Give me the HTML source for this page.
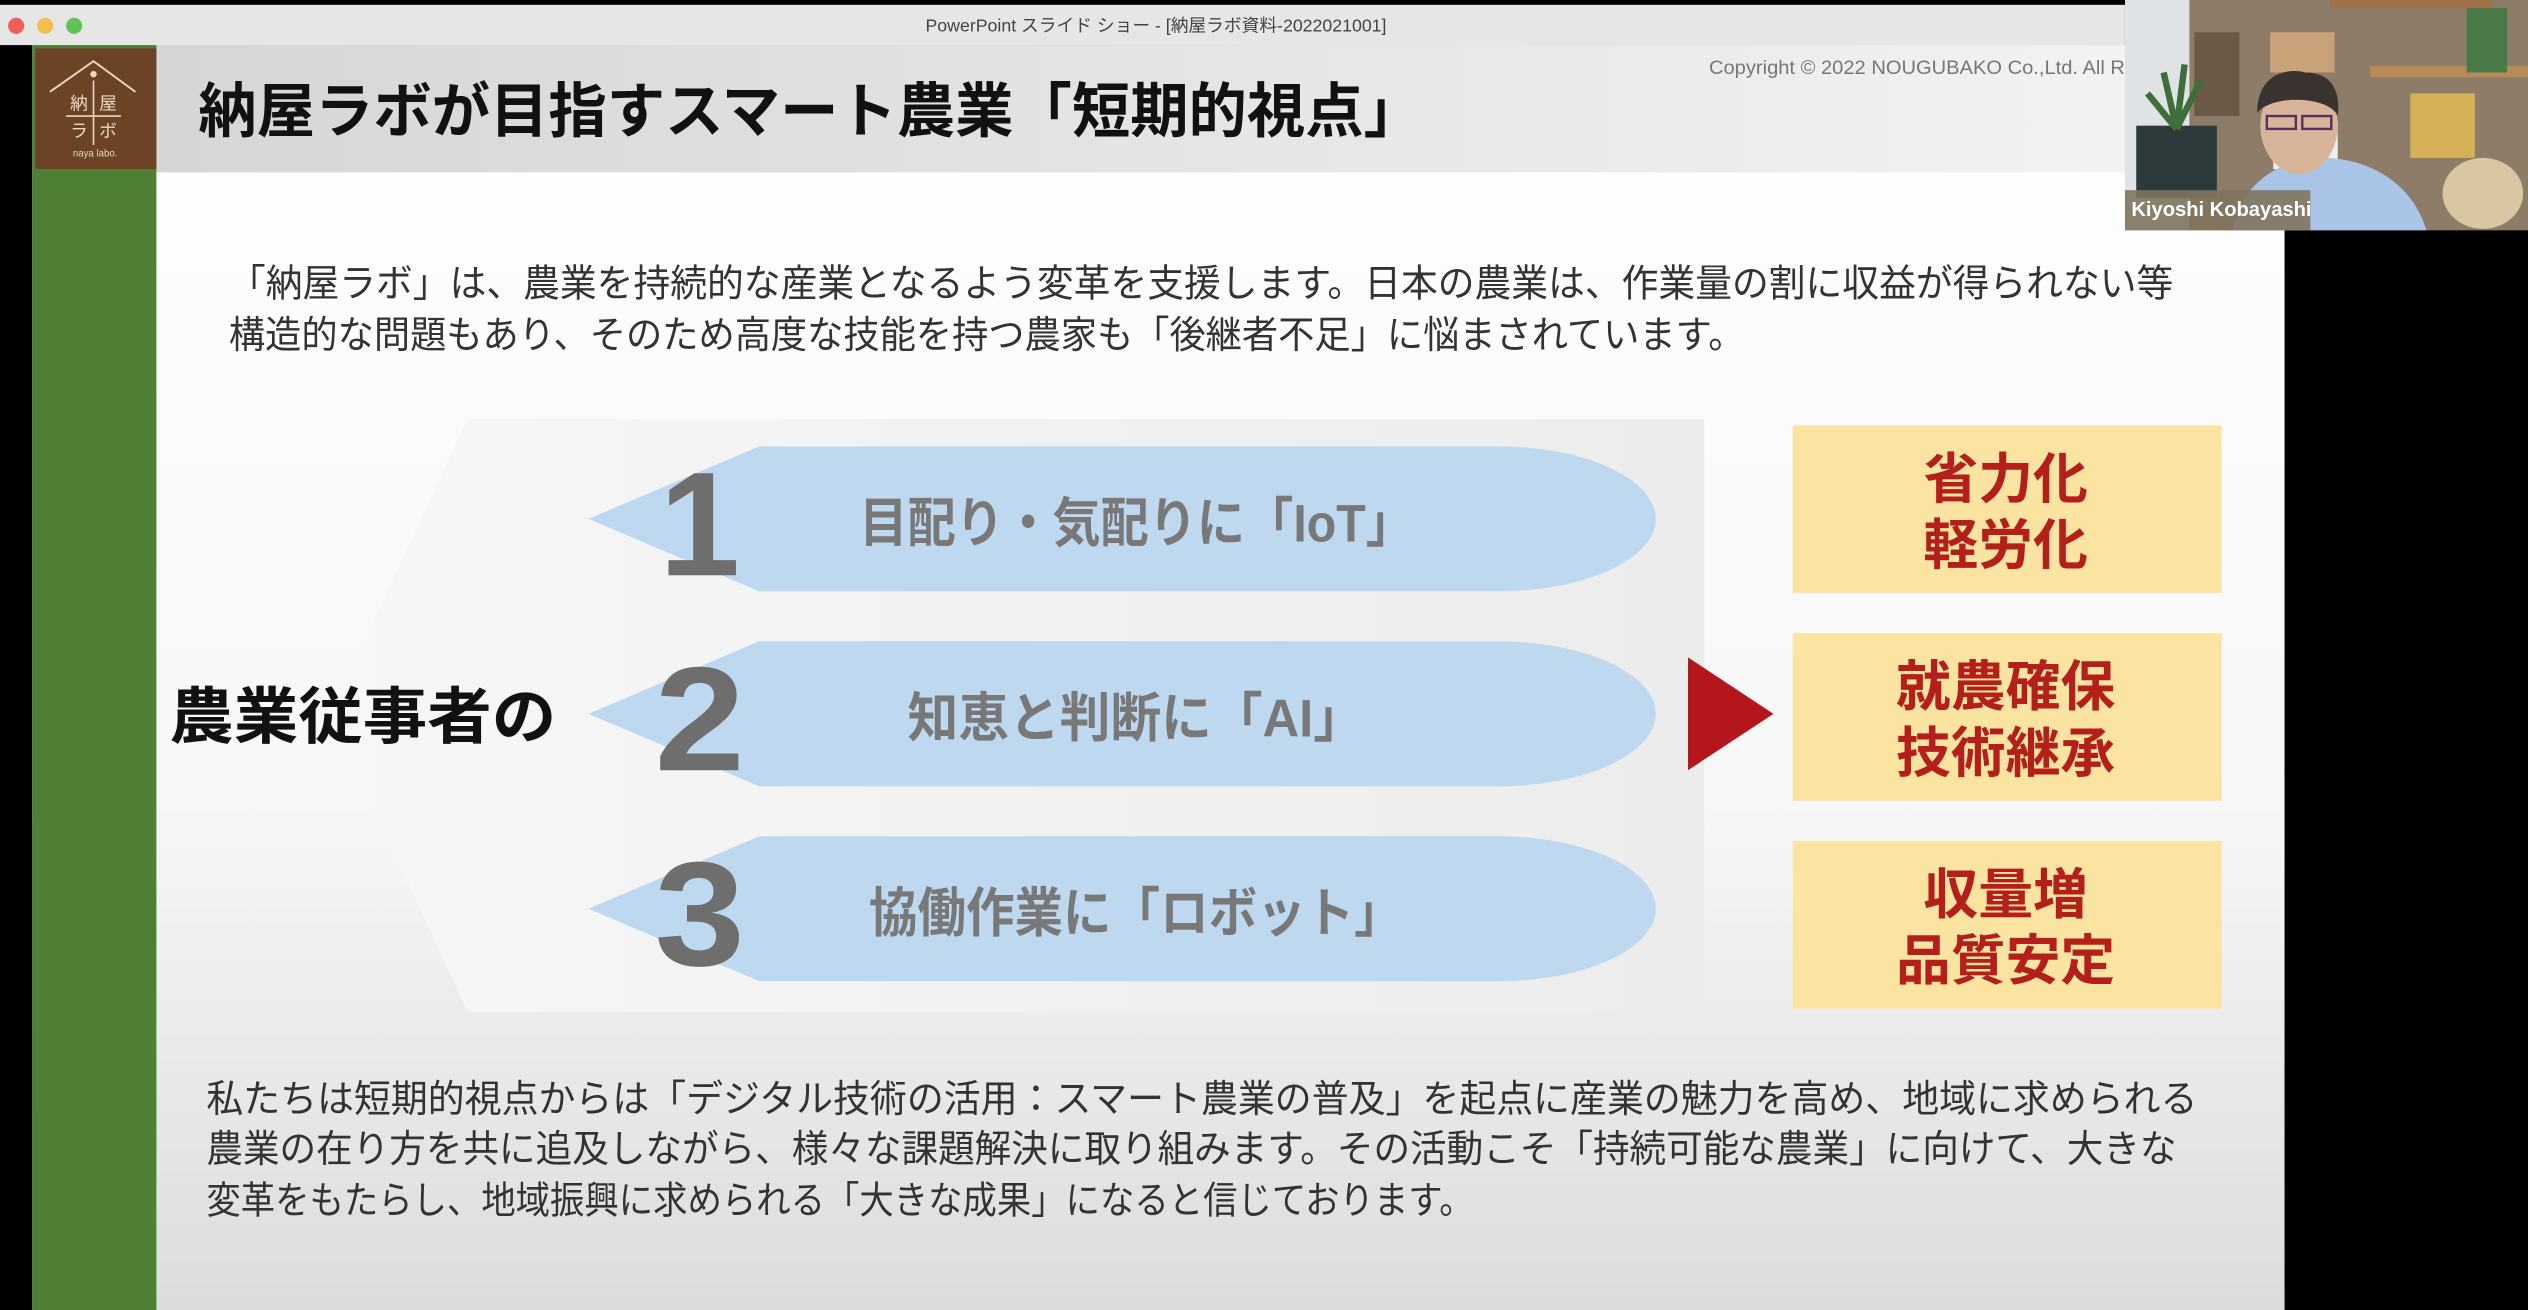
<!DOCTYPE html>
<html><head><meta charset="utf-8"><style>
html,body{margin:0;padding:0;background:#000;width:2528px;height:1310px;overflow:hidden}
svg{display:block}
text{font-family:"Liberation Sans","Noto Sans CJK JP",sans-serif}
</style></head><body>
<svg width="2528" height="1310" viewBox="0 0 1568 813" xmlns="http://www.w3.org/2000/svg" preserveAspectRatio="none">
<defs>
<linearGradient id="hdr" x1="0" y1="0" x2="1" y2="0"><stop offset="0" stop-color="#d6d6d6"/><stop offset="1" stop-color="#f2f2f2"/></linearGradient>
<linearGradient id="body" x1="0" y1="0" x2="0" y2="1"><stop offset="0" stop-color="#ffffff"/><stop offset="0.6" stop-color="#f7f7f7"/><stop offset="1" stop-color="#dcdcdc"/></linearGradient>
<linearGradient id="chev" x1="0" y1="0" x2="1" y2="0"><stop offset="0" stop-color="#f7f7f7"/><stop offset="1" stop-color="#ececec"/></linearGradient>
<clipPath id="vid"><rect x="1318" y="0" width="250" height="143"/></clipPath>
</defs>
<rect x="0" y="0" width="1568" height="813" fill="#000"/>
<rect x="0" y="3" width="1318" height="25" fill="#e6e6e6"/>
<circle cx="10" cy="16" r="5" fill="#ee5f57"/><circle cx="28" cy="16" r="5" fill="#f4bd4f"/><circle cx="46" cy="16" r="5" fill="#5fc454"/>
<text x="717" y="19.5" font-size="11" fill="#444" text-anchor="middle">PowerPoint スライド ショー - [納屋ラボ資料-2022021001]</text>
<rect x="20" y="28" width="1397" height="785" fill="url(#body)"/>
<rect x="97" y="28" width="1221" height="79" fill="url(#hdr)"/>
<rect x="20" y="28" width="77" height="785" fill="#4f7f35"/>
<rect x="22" y="30" width="75" height="75" fill="#6d4326"/>
<polyline points="31,57 58,38 84,57" fill="none" stroke="#e9d8bf" stroke-width="1.2"/>
<circle cx="58" cy="46" r="2" fill="#e9d8bf"/>
<line x1="58" y1="50" x2="58" y2="90" stroke="#e9d8bf" stroke-width="1"/>
<line x1="41" y1="72" x2="75" y2="72" stroke="#e9d8bf" stroke-width="1"/>
<text x="49" y="68" font-size="11" fill="#e9d8bf" text-anchor="middle">納</text>
<text x="67" y="68" font-size="11" fill="#e9d8bf" text-anchor="middle">屋</text>
<text x="49" y="85" font-size="11" fill="#e9d8bf" text-anchor="middle">ラ</text>
<text x="67" y="85" font-size="11" fill="#e9d8bf" text-anchor="middle">ボ</text>
<text x="59" y="97" font-size="6" fill="#e9d8bf" text-anchor="middle">naya labo.</text>
<text x="123" y="82" font-size="37" font-weight="bold" fill="#111" textLength="759" lengthAdjust="spacingAndGlyphs">納屋ラボが目指すスマート農業「短期的視点」</text>
<text x="1060" y="46" font-size="12" fill="#777" textLength="258" lengthAdjust="spacingAndGlyphs">Copyright © 2022 NOUGUBAKO Co.,Ltd. All R</text>
<text x="142" y="184" font-size="23.5" fill="#333" textLength="1206" lengthAdjust="spacingAndGlyphs">「納屋ラボ」は、農業を持続的な産業となるよう変革を支援します。日本の農業は、作業量の割に収益が得られない等</text>
<text x="142" y="216" font-size="23.5" fill="#333" textLength="940" lengthAdjust="spacingAndGlyphs">構造的な問題もあり、そのため高度な技能を持つ農家も「後継者不足」に悩まされています。</text>
<polygon points="290,260 1057,260 1057,628 290,628 205,443" fill="url(#chev)"/>
<g fill="#bdd8ef">
<path d="M365,322 L471,277 L929,277 A98,45 0 0 1 929,367 L471,367 Z"/>
<path d="M365,443 L471,398 L929,398 A98,45 0 0 1 929,488 L471,488 Z"/>
<path d="M365,564 L471,519 L929,519 A98,45 0 0 1 929,609 L471,609 Z"/>
</g>
<g font-weight="bold" fill="#6e6e6e" text-anchor="middle" font-size="92">
<text x="434" y="357" textLength="50" lengthAdjust="spacingAndGlyphs">1</text><text x="434" y="478" textLength="56" lengthAdjust="spacingAndGlyphs">2</text><text x="434" y="599" textLength="56" lengthAdjust="spacingAndGlyphs">3</text>
</g>
<g font-weight="bold" fill="#787878" font-size="33">
<text x="533" y="336" textLength="344" lengthAdjust="spacingAndGlyphs">目配り・気配りに「IoT」</text>
<text x="563" y="457" textLength="283" lengthAdjust="spacingAndGlyphs">知恵と判断に「AI」</text>
<text x="539" y="578" textLength="331" lengthAdjust="spacingAndGlyphs">協働作業に「ロボット」</text>
</g>
<text x="105" y="458" font-size="38" font-weight="bold" fill="#111" textLength="240" lengthAdjust="spacingAndGlyphs">農業従事者の</text>
<polygon points="1047,408 1100,443 1047,478" fill="#b3161b"/>
<g fill="#fbe4a2">
<rect x="1112" y="264" width="266" height="104"/>
<rect x="1112" y="393" width="266" height="104"/>
<rect x="1112" y="522" width="266" height="104"/>
</g>
<g font-weight="bold" fill="#b3201c" text-anchor="middle" font-size="34">
<text x="1244" y="309">省力化</text><text x="1244" y="350">軽労化</text>
<text x="1244" y="438">就農確保</text><text x="1244" y="479">技術継承</text>
<text x="1244" y="567">収量増</text><text x="1244" y="608">品質安定</text>
</g>
<g font-size="23.5" fill="#333" lengthAdjust="spacingAndGlyphs">
<text x="128" y="690" textLength="1235" lengthAdjust="spacingAndGlyphs">私たちは短期的視点からは「デジタル技術の活用：スマート農業の普及」を起点に産業の魅力を高め、地域に求められる</text>
<text x="128" y="721" textLength="1222" lengthAdjust="spacingAndGlyphs">農業の在り方を共に追及しながら、様々な課題解決に取り組みます。その活動こそ「持続可能な農業」に向けて、大きな</text>
<text x="128" y="753" textLength="786" lengthAdjust="spacingAndGlyphs">変革をもたらし、地域振興に求められる「大きな成果」になると信じております。</text>
</g>
<g clip-path="url(#vid)">
<rect x="1318" y="0" width="250" height="143" fill="#8c7c68"/>
<rect x="1318" y="0" width="40" height="143" fill="#dfe3e6"/>
<rect x="1470" y="41" width="100" height="7" fill="#b88a58"/>
<rect x="1445" y="0" width="100" height="5" fill="#a07048"/>
<rect x="1408" y="20" width="40" height="25" fill="#c9a27a"/>
<rect x="1410" y="75" width="40" height="30" fill="#eeeeee"/>
<rect x="1495" y="58" width="40" height="40" fill="#d6b056"/>
<rect x="1530" y="5" width="25" height="40" fill="#4a7a4a"/>
<rect x="1361" y="20" width="28" height="52" fill="#6c5a48"/>
<rect x="1325" y="78" width="50" height="45" fill="#2d3a3c"/>
<path d="M1350,80 l-8,-35 M1350,80 l5,-40 M1350,80 l15,-30 M1350,80 l-18,-22" stroke="#3f6e3a" stroke-width="4"/>
<path d="M1385,143 C1390,110 1420,98 1440,98 C1465,98 1495,110 1505,143 Z" fill="#a9c4e6"/>
<ellipse cx="1426" cy="78" rx="24" ry="30" fill="#d8b49a"/>
<path d="M1400,70 C1400,45 1420,42 1430,45 C1445,45 1452,55 1450,72 C1445,60 1410,58 1400,70 Z" fill="#3a3330"/>
<rect x="1406" y="72" width="18" height="8" fill="none" stroke="#5a3060" stroke-width="1.5"/>
<rect x="1428" y="72" width="18" height="8" fill="none" stroke="#5a3060" stroke-width="1.5"/>
<ellipse cx="1540" cy="120" rx="25" ry="22" fill="#d9c7a4"/>
<rect x="1318" y="118" width="115" height="25" fill="#7f745f" opacity="0.9"/>
<text x="1322" y="134" font-size="12.5" font-weight="bold" fill="#fff">Kiyoshi Kobayashi</text>
</g>
</svg>
</body></html>
